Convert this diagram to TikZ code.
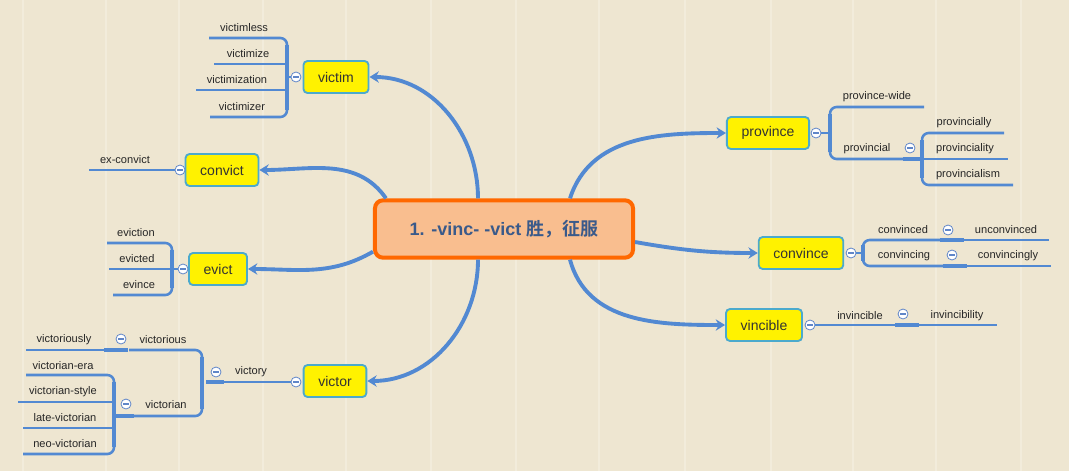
\documentclass[tikz,border=0pt]{standalone}
\usepackage{fontspec}
\setmainfont{Liberation Sans}
\newfontfamily\cjkfont{Noto Sans CJK SC}[BoldFont={Noto Sans CJK SC Bold}]
\usetikzlibrary{arrows.meta}

\definecolor{paper}{RGB}{238,230,209}
\definecolor{plank}{RGB}{248,244,232}
\definecolor{branchblue}{RGB}{82,137,210}
\definecolor{rootfill}{RGB}{249,190,143}
\definecolor{rootline}{RGB}{255,104,0}
\definecolor{roottext}{RGB}{58,90,138}
\definecolor{topicline}{RGB}{75,170,205}
\definecolor{foldline}{RGB}{96,134,200}

\tikzset{
  root/.style={draw=rootline, line width=3pt, fill=rootfill, rounded corners=6pt,
    inner xsep=26pt, minimum height=43pt, text=roottext,
    font=\fontsize{13.5}{16}\selectfont\bfseries},
  topic/.style={draw=topicline, line width=1.4pt, fill=yellow, rounded corners=3pt,
    inner xsep=11pt, minimum height=24pt, text=black!80,
    font=\fontsize{10.5}{12}\selectfont},
  leaf/.style={inner sep=0pt, text=black!85, font=\fontsize{8.3}{10}\selectfont},
  link/.style={draw=branchblue, line width=2.9pt, -{Stealth[length=7pt,width=8.5pt]}},
  branch/.style={draw=branchblue, line width=1.9pt},
  bar/.style={draw=branchblue, line width=2.9pt},
  fold/.style={circle, draw=foldline, fill=white, line width=0.6pt, minimum size=7.5pt,
    inner sep=0pt, path picture={\draw[foldline, line width=0.8pt]
      ([xshift=1.8pt]path picture bounding box.west) --
      ([xshift=-1.8pt]path picture bounding box.east);}}
}

\begin{document}
\begin{tikzpicture}[x=0.75pt, y=-0.75pt]
        % Background
        \useasboundingbox (0,0) rectangle (1069,471);
        \fill[paper] (0,0) rectangle (1069,471);
        \foreach \x in {22,105,178,262,345,430,515,598,684,770,852,935,1020}
          \fill[plank, opacity=0.45] (\x,0) rectangle ++(2,471);

        % Nodes
        \node (root) [root] at (504,229) {1. -vinc- -vict {\cjkfont 胜，征服}};
        \node (victim) [topic] at (336,77) {victim};
        \node (convict) [topic] at (222,170) {convict};
        \node (evict) [topic] at (218,269) {evict};
        \node (victor) [topic] at (335,381) {victor};
        \node (province) [topic] at (768,133) {province};
        \node (convince) [topic] at (801,253) {convince};
        \node (vincible) [topic] at (764,325) {vincible};

        % Edges
        \draw[link] ([xshift=-19.5pt]root.north) to[out=90, in=0] (victim.east);
        \draw[link] ([xshift=9.75pt]root.north west) to[out=125, in=0] (convict.east);
        \draw[link] ([yshift=-17pt]root.west) to[out=210, in=0] (evict.east);
        \draw[link] ([xshift=-19.5pt]root.south) to[out=-90, in=0] (victor.east);
        \draw[link] ([xshift=49.5pt]root.north) to[out=72, in=180] (province.west);
        \draw[link] ([yshift=-9.75pt]root.east) to[out=-10, in=180] (convince.west);
        \draw[link] ([xshift=49.5pt]root.south) to[out=-75, in=180] (vincible.west);

        % victim
        \node (fvictim) [fold] at (296,77) {};
        \draw[branch, rounded corners=5pt] (209,38) -- (287,38) -- (287,117) -- (210,117);
        \draw[branch] (214,64) -- (287,64) (196,90) -- (287,90);
        \draw[bar] (287,45) -- (287,110);
        \draw[branch] (287,77) -- (fvictim.west);
        \node (victimless) [leaf] at (244,28) {victimless};
        \node (victimize) [leaf] at (248,54) {victimize};
        \node (victimization) [leaf] at (237,80) {victimization};
        \node (victimizer) [leaf] at (242,107) {victimizer};

        % convict
        \node (fconvict) [fold] at (180,170) {};
        \draw[branch] (89,170) -- (fconvict.west);
        \node (exconvict) [leaf] at (125,160) {ex-convict};

        % evict
        \node (fevict) [fold] at (183,269) {};
        \draw[branch, rounded corners=5pt] (107,243) -- (172,243) -- (172,295) -- (113,295);
        \draw[branch] (109,269) -- (172,269);
        \draw[bar] (172,250) -- (172,288);
        \draw[branch] (172,269) -- (fevict.west);
        \node (eviction) [leaf] at (136,233) {eviction};
        \node (evicted) [leaf] at (137,259) {evicted};
        \node (evince) [leaf] at (139,285) {evince};

        % victor
        \node (fvictor) [fold] at (296,382) {};
        \draw[branch] (224,382) -- (fvictor.west);
        \draw[bar] (206,382) -- (224,382);
        \node (victory) [leaf] at (251,372) {victory};
        \node (fvictory) [fold] at (216,372) {};
        \draw[branch, rounded corners=5pt] (129,350) -- (202,350) -- (202,416) -- (134,416);
        \draw[bar] (202,357) -- (202,409);
        \node (victorious) [leaf] at (163,340) {victorious};
        \node (fvictorious) [fold] at (121,339) {};
        \draw[branch] (26,350) -- (104,350);
        \draw[bar] (104,350) -- (128,350);
        \node (victoriously) [leaf] at (64,340) {victoriously};
        \node (victorian) [leaf] at (166,405) {victorian};
        \node (fvictorian) [fold] at (126,404) {};
        \draw[bar] (114,416) -- (134,416);
        \draw[branch, rounded corners=5pt] (26,375) -- (114,375) -- (114,454) -- (23,454);
        \draw[branch] (18,402) -- (114,402) (23,428) -- (114,428);
        \draw[bar] (114,382) -- (114,447);
        \node (victorianera) [leaf] at (63,366) {victorian-era};
        \node (victorianstyle) [leaf] at (63,392) {victorian-style};
        \node (latevictorian) [leaf] at (65,418) {late-victorian};
        \node (neovictorian) [leaf] at (65,444) {neo-victorian};

        % province
        \node (fprovince) [fold] at (816,133) {};
        \draw[branch] (fprovince.east) -- (830,133);
        \draw[branch, rounded corners=5pt] (924,107) -- (830,107) -- (830,159) -- (903,159);
        \draw[bar] (830,114) -- (830,152);
        \draw[bar] (903,159) -- (922,159);
        \node (fprovincial) [fold] at (910,148) {};
        \draw[branch, rounded corners=5pt] (1004,133) -- (922,133) -- (922,185) -- (1013,185);
        \draw[branch] (922,159) -- (1008,159);
        \draw[bar] (922,140) -- (922,178);
        \node (provincewide) [leaf] at (877,97) {province-wide};
        \node (provincial) [leaf] at (867,149) {provincial};
        \node (provincially) [leaf] at (964,123) {provincially};
        \node (provinciality) [leaf] at (965,149) {provinciality};
        \node (provincialism) [leaf] at (968,175) {provincialism};

        % convince
        \node (fconvince) [fold] at (851,253) {};
        \draw[branch] (fconvince.east) -- (863,253);
        \draw[branch, rounded corners=5pt] (940,240) -- (863,240) -- (863,266) -- (943,266);
        \draw[bar] (863,245) -- (863,261);
        \draw[bar] (940,240) -- (964,240) (943,266) -- (967,266);
        \draw[branch] (964,240) -- (1049,240) (967,266) -- (1051,266);
        \node (fconvinced) [fold] at (948,230) {};
        \node (fconvincing) [fold] at (952,255) {};
        \node (convinced) [leaf] at (903,230) {convinced};
        \node (unconvinced) [leaf] at (1006,230) {unconvinced};
        \node (convincing) [leaf] at (904,256) {convincing};
        \node (convincingly) [leaf] at (1008,256) {convincingly};

        % vincible
        \node (fvincible) [fold] at (810,325) {};
        \draw[branch] (fvincible.east) -- (895,325);
        \draw[bar] (895,325) -- (919,325);
        \draw[branch] (919,325) -- (997,325);
        \node (finvincible) [fold] at (903,314) {};
        \node (invincible) [leaf] at (860,316) {invincible};
        \node (invincibility) [leaf] at (957,316) {invincibility};
    \end{tikzpicture}
\end{document}
